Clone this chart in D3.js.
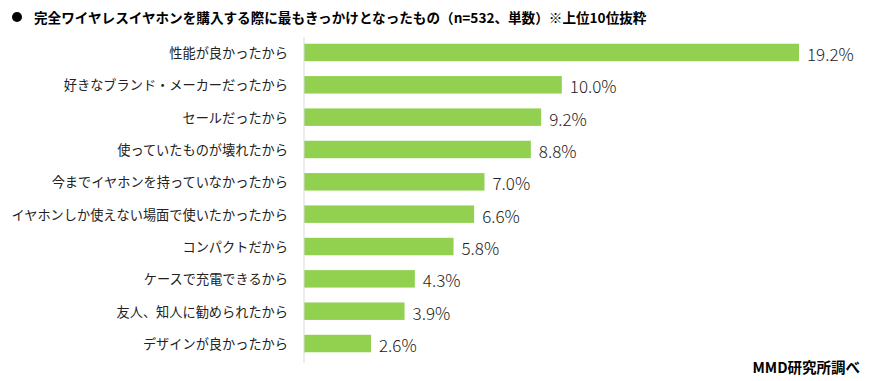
<!DOCTYPE html>
<html>
<head>
<meta charset="utf-8">
<script src="https://cdn.jsdelivr.net/npm/d3@7"></script>
<style>
    body { margin: 0; background: #fff; }
    text { font-family: "Noto Sans CJK JP", sans-serif; }
</style>
</head>
<body>
<svg id="chart"></svg>
<script>
// data
const categories = [
    '性能が良かったから',
    '好きなブランド・メーカーだったから',
    'セールだったから',
    '使っていたものが壊れたから',
    '今までイヤホンを持っていなかったから',
    'イヤホンしか使えない場面で使いたかったから',
    'コンパクトだから',
    'ケースで充電できるから',
    '友人、知人に勧められたから',
    'デザインが良かったから'
];
const values = [19.2, 10.0, 9.2, 8.8, 7.0, 6.6, 5.8, 4.3, 3.9, 2.6];
const valueLabels = ['19.2%', '10.0%', '9.2%', '8.8%', '7.0%', '6.6%', '5.8%', '4.3%', '3.9%', '2.6%'];
const title = '完全ワイヤレスイヤホンを購入する際に最もきっかけとなったもの（n=532、単数）※上位10位抜粋';
const source = 'MMD研究所調べ';

const WIDTH = 872;
const HEIGHT = 381;
const BAR_COLOR = '#92d050';

const svg = d3.select('#chart')
    .attr('width', WIDTH)
    .attr('height', HEIGHT);

// scales
const x = d3.scaleLinear()
    .domain([0, 20])
    .range([304, 304 + 25.78 * 20]);

const y = d3.scaleBand()
    .domain(categories)
    .range([35, 361])
    .paddingInner(0.46)
    .paddingOuter(0.27);

// title
svg.append('circle')
    .attr('cx', 17)
    .attr('cy', 17)
    .attr('r', 5)
    .attr('fill', '#000');

svg.append('text')
    .attr('x', 34)
    .attr('y', 17)
    .attr('dominant-baseline', 'central')
    .attr('font-size', 13.6)
    .attr('font-weight', 'bold')
    .attr('fill', '#000')
    .text(title);

// bars
svg.append('g')
    .attr('class', 'bars')
    .selectAll('rect')
    .data(values)
    .enter()
    .append('rect')
    .attr('x', x(0))
    .attr('y', (d, i) => y(categories[i]))
    .attr('width', d => x(d) - x(0))
    .attr('height', y.bandwidth())
    .attr('fill', BAR_COLOR);

// axis line
svg.append('line')
    .attr('x1', x(0))
    .attr('x2', x(0))
    .attr('y1', 37)
    .attr('y2', 363)
    .attr('stroke', '#d9d9d9')
    .attr('stroke-width', 1);

// category labels
svg.append('g')
    .attr('class', 'labels')
    .selectAll('text')
    .data(categories)
    .enter()
    .append('text')
    .attr('x', 288)
    .attr('y', d => y(d) + y.bandwidth() / 2)
    .attr('text-anchor', 'end')
    .attr('dominant-baseline', 'central')
    .attr('font-size', 13.2)
    .attr('fill', '#222')
    .text(d => d);

// value labels
svg.append('g')
    .attr('class', 'values')
    .selectAll('text')
    .data(values)
    .enter()
    .append('text')
    .attr('x', d => x(d) + 8)
    .attr('y', (d, i) => y(categories[i]) + y.bandwidth() / 2 + 1)
    .attr('dominant-baseline', 'central')
    .attr('font-size', 17)
    .attr('font-weight', 300)
    .attr('fill', '#222')
    .text((d, i) => valueLabels[i]);

// source
svg.append('text')
    .attr('x', 860)
    .attr('y', 366)
    .attr('text-anchor', 'end')
    .attr('dominant-baseline', 'central')
    .attr('font-size', 14.5)
    .attr('font-weight', 'bold')
    .attr('fill', '#000')
    .text(source);
</script>
</body>
</html>
